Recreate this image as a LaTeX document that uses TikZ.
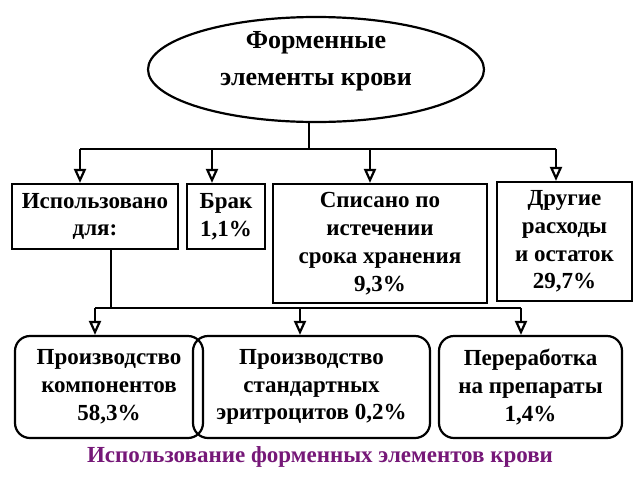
\documentclass[tikz,border=0pt]{standalone}
\usepackage{fontspec}
\setmainfont{Liberation Serif}
\usetikzlibrary{shapes.geometric,arrows.meta}
\definecolor{capcol}{RGB}{118,24,120}
\begin{document}
\begin{tikzpicture}[x=1pt,y=-1pt,
  every node/.style={font=\bfseries\fontsize{23}{27.8}\selectfont, align=center, inner sep=0pt},
  box/.style={draw, line width=2.2pt},
  rbox/.style={draw, line width=2.2pt, rounded corners=15pt},
  conn/.style={line width=2.2pt},
  arr/.style={line width=2.2pt, -{Triangle[open, length=14pt, width=12pt]}}]
\useasboundingbox (0,0) rectangle (640,480);
% top ellipse
\node[draw, ellipse, line width=2.2pt, minimum width=336pt, minimum height=105pt] (top) at (316,69.5) {};
\node[font=\bfseries\fontsize{26}{37}\selectfont] (toptext) at (316,61) {Форменные\\элементы крови};
% row 1
\node[box, minimum width=166pt, minimum height=65pt] (use) at (95,216.5) {Использовано\\для:};
\node[box, minimum width=78pt, minimum height=65pt] (brak) at (226,216.5) {Брак\\1,1\%};
\node[box, minimum width=214pt, minimum height=119pt] (spis) at (380,243.5) {Списано по\\истечении\\срока хранения\\9,3\%};
\node[box, minimum width=135pt, minimum height=119pt] (drug) at (564.5,241.5) {Другие\\расходы\\и остаток\\29,7\%};
% row 2
\node[rbox, minimum width=188pt, minimum height=102pt] (p1) at (109,387) {Производство\\компонентов\\58,3\%};
\node[rbox, minimum width=237pt, minimum height=102pt] (p2) at (311.5,387) {Производство\\стандартных\\эритроцитов 0,2\%};
\node[rbox, minimum width=183pt, minimum height=102pt] (p3) at (530.5,387) {Переработка\\на препараты\\1,4\%};
% caption
\node[text=capcol] (cap) at (320,457) {Использование форменных элементов крови};
% upper connectors
\coordinate (j1) at (309,149);
\coordinate (b1) at (80,149);
\coordinate (b2) at (212,149);
\coordinate (b3) at (370,149);
\coordinate (b4) at (556,149);
\draw[conn] (j1 |- top.south) -- (j1);
\draw[conn] (b1) -- (b4);
\draw[arr] (b1) -- (b1 |- use.north);
\draw[arr] (b2) -- (b2 |- brak.north);
\draw[arr] (b3) -- (b3 |- spis.north);
\draw[arr] (b4) -- (b4 |- drug.north);
% lower connectors
\coordinate (j2) at (111,308);
\coordinate (c1) at (95,308);
\coordinate (c2) at (300,308);
\coordinate (c3) at (521,308);
\draw[conn] (j2 |- use.south) -- (j2);
\draw[conn] (c1) -- (c3);
\draw[arr] (c1) -- (c1 |- p1.north);
\draw[arr] (c2) -- (c2 |- p2.north);
\draw[arr] (c3) -- (c3 |- p3.north);
\end{tikzpicture}
\end{document}
